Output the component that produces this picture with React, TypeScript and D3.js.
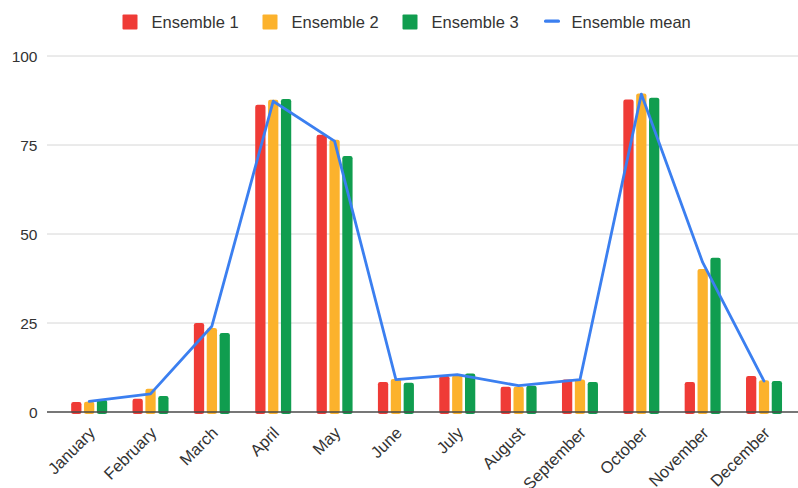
import React from "react";
import * as d3 from "d3";

// Monthly values for three ensemble runs and their mean
const months = [
  "January", "February", "March", "April", "May", "June",
  "July", "August", "September", "October", "November", "December",
];
const ensemble1 = [2.8, 3.7, 25.0, 86.3, 77.9, 8.4, 10.1, 7.1, 9.1, 87.8, 8.4, 10.1];
const ensemble2 = [2.9, 6.5, 23.6, 87.7, 76.5, 9.3, 10.3, 7.1, 9.1, 89.5, 40.2, 8.9];
const ensemble3 = [3.4, 4.5, 22.2, 87.9, 71.9, 8.2, 10.8, 7.4, 8.4, 88.3, 43.3, 8.7];
const ensembleMean = [3.0, 5.1, 24.1, 87.3, 76.1, 9.1, 10.5, 7.4, 9.1, 89.3, 42.0, 8.7];
const seriesNames = ["Ensemble 1", "Ensemble 2", "Ensemble 3"];
const meanName = "Ensemble mean";
const yTicks = [0, 25, 50, 75, 100];

const W = 798;
const H = 488;
const FONT = "'Liberation Sans', Arial, Helvetica, sans-serif";
const COLORS = ["#ef3b36", "#fcb22c", "#109d4f"];
const LINE_COLOR = "#3b7ff0";
const TEXT_COLOR = "#333";

export default function App() {
  const seriesValues = [ensemble1, ensemble2, ensemble3];

  const gridLeft = 47;
  const gridRight = W;
  const y = d3.scaleLinear().domain([0, 100]).range([412, 56]);
  const x0 = d3.scaleBand<string>().domain(months).range([58.5, 794.7]).padding(0);
  const groupW = 36;
  const x1 = d3
    .scaleBand<string>()
    .domain(seriesNames)
    .range([0, groupW])
    .paddingInner(0.2)
    .paddingOuter(0);
  const groupStart = (m: string) => (x0(m) ?? 0) + (x0.bandwidth() - groupW) / 2;
  const center = (m: string) => (x0(m) ?? 0) + x0.bandwidth() / 2;

  const line = d3
    .line<number>()
    .x((_, i) => center(months[i]))
    .y((d) => y(d));

  const legendX = 122;
  const legendStep = 140;

  return (
    <svg
      width={W}
      height={H}
      style={{ position: "absolute", left: 0, top: 0, background: "#fff" }}
      fontFamily={FONT}
    >
      <rect width={W} height={H} fill="#fff" />

      {/* gridlines and y labels */}
      {yTicks.map((t) => (
        <g key={t}>
          {t !== 0 && (
            <line x1={gridLeft} x2={gridRight} y1={y(t)} y2={y(t)} stroke="#d6d6d6" strokeWidth={1} />
          )}
          <text
            x={37.5}
            y={y(t)}
            textAnchor="end"
            dominantBaseline="central"
            fontSize={15.5}
            fill={TEXT_COLOR}
          >
            {t}
          </text>
        </g>
      ))}

      {/* bars */}
      {seriesValues.map((vals, s) =>
        vals.map((v, i) => {
          const m = months[i];
          const bx = groupStart(m) + (x1(seriesNames[s]) ?? 0);
          return (
            <rect
              key={`${s}-${i}`}
              x={bx}
              y={y(v)}
              width={x1.bandwidth()}
              height={y(0) - y(v) + 2}
              rx={2.2}
              fill={COLORS[s]}
            />
          );
        })
      )}

      {/* baseline */}
      <line x1={gridLeft} x2={gridRight} y1={y(0)} y2={y(0)} stroke="#4a4a4a" strokeWidth={1.6} />

      {/* mean line */}
      <path
        d={line(ensembleMean) ?? ""}
        fill="none"
        stroke={LINE_COLOR}
        strokeWidth={2.8}
        strokeLinejoin="round"
        strokeLinecap="round"
      />

      {/* x labels */}
      {months.map((m) => {
        const ax = center(m) + 7;
        const ay = 434;
        return (
          <text
            key={m}
            x={ax}
            y={ay}
            textAnchor="end"
            fontSize={16.5}
            fill={TEXT_COLOR}
            transform={`rotate(-45 ${ax} ${ay})`}
          >
            {m}
          </text>
        );
      })}

      {/* legend */}
      {seriesNames.map((n, i) => (
        <g key={n} transform={`translate(${legendX + i * legendStep},0)`}>
          <rect x={0.5} y={14.5} width={15} height={15} rx={1} fill={COLORS[i]} />
          <text x={29.5} y={28} fontSize={16.5} fill={TEXT_COLOR}>
            {n}
          </text>
        </g>
      ))}
      <g transform={`translate(${legendX + 3 * legendStep},0)`}>
        <rect x={2} y={19.5} width={16} height={3.2} rx={1.5} fill={LINE_COLOR} />
        <text x={29.5} y={28} fontSize={16.5} fill={TEXT_COLOR}>
          {meanName}
        </text>
      </g>
    </svg>
  );
}
